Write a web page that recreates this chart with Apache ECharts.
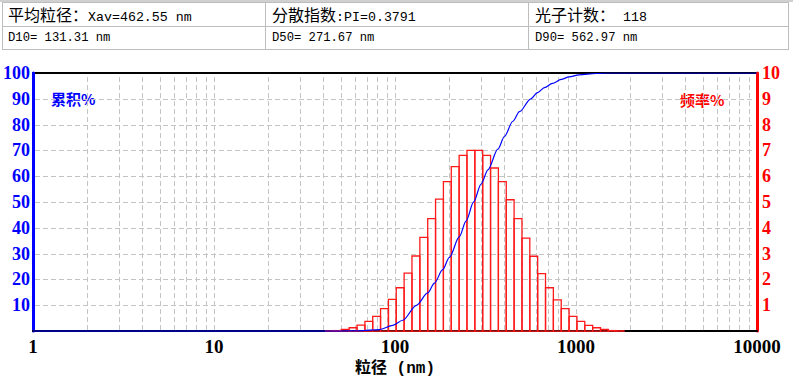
<!DOCTYPE html>
<html>
<head>
<meta charset="utf-8">
<script src="https://cdn.jsdelivr.net/npm/echarts@6/dist/echarts.min.js"></script>
<style>
  html, body { margin: 0; padding: 0; background: #fff; }
  #wrap { position: relative; width: 793px; height: 382px; overflow: hidden; }
  #chart { position: absolute; left: 0; top: 0; width: 793px; height: 382px; }
  #hdr { position: absolute; left: 2px; top: 2px; width: 787px; height: 48px; border: 1px solid #bdbdbd; box-sizing: border-box; }
  #topband { position: absolute; left: 0; top: 0; width: 793px; height: 2px; background: #d0d0d0; }
  .cell { position: absolute; box-sizing: border-box; white-space: pre; color: #000; }
  .c { font-family: "Noto Sans CJK SC", sans-serif; font-size: 16px; }
  .m1 { font-family: "Liberation Mono", "DejaVu Sans Mono", monospace; font-size: 13.3px; }
  .m2 { font-family: "Liberation Mono", "DejaVu Sans Mono", monospace; font-size: 12.2px; }
  .vl { position: absolute; top: 0; width: 1px; height: 46px; background: #bdbdbd; }
  .hl { position: absolute; left: 0; width: 785px; height: 1px; background: #bdbdbd; top: 23px; }
</style>
</head>
<body>
<div id="wrap">
  <div id="chart"></div>
  <div id="topband"></div>
  <div id="hdr">
    <div class="hl"></div>
    <div class="vl" style="left:262px"></div>
    <div class="vl" style="left:525px"></div>
    <div class="cell" style="left:5px;top:0px;line-height:22px;"><span class="c">平均粒径：</span><span class="m1">Xav=462.55 nm</span></div>
    <div class="cell" style="left:269px;top:0px;line-height:22px;"><span class="c">分散指数</span><span class="m1">:PI=0.3791</span></div>
    <div class="cell" style="left:532px;top:0px;line-height:22px;"><span class="c">光子计数：</span><span class="m1"> 118</span></div>
    <div class="cell m2" style="left:5px;top:24px;line-height:22px;">D10= 131.31 nm</div>
    <div class="cell m2" style="left:269px;top:24px;line-height:22px;">D50= 271.67 nm</div>
    <div class="cell m2" style="left:532px;top:24px;line-height:22px;">D90= 562.97 nm</div>
  </div>
</div>
<script>
// Histogram bin edges (nm), equal width on a log scale
const binEdges = [41.4, 45.7, 50.5, 55.8, 61.7, 68.2, 75.3, 83.2, 92.0, 101.6, 112.3, 124.1, 137.2,
  151.6, 167.5, 185.1, 204.6, 226.1, 249.8, 276.1, 305.1, 337.2, 372.6, 411.8, 455.0, 502.9,
  555.7, 614.1, 678.6, 749.9, 828.7, 915.8, 1012, 1118, 1236, 1366, 1509, 1668, 1843];
// Frequency % per bin
const freqValues = [0.01, 0.02, 0.07, 0.13, 0.23, 0.38, 0.57, 0.87, 1.23, 1.68, 2.25, 2.91, 3.63,
  4.36, 5.11, 5.79, 6.37, 6.81, 7.00, 7.00, 6.81, 6.32, 5.79, 5.09, 4.36, 3.60, 2.90, 2.23,
  1.68, 1.21, 0.87, 0.57, 0.38, 0.22, 0.13, 0.07, 0.02, 0.01];
// Cumulative curve (diameter nm, cumulative %)
const cumDiam = [1, 40, 50, 63.7, 82.1, 97.2, 110.4, 131.31, 151.7, 165.1, 183.4, 199.7, 226.8,
  246.9, 271.67, 299.3, 326.0, 370.1, 402.9, 447.7, 487.2, 562.97, 612.7, 669.5, 741.3, 828.0,
  916.2, 1040, 1286, 1522, 10000];
const cumValues = [0, 0, 0.02, 0.1, 0.6, 2.2, 4.2, 10, 14.8, 18.6, 23.8, 28.6, 36.6,
  42.6, 50, 57.0, 62.5, 70.5, 75.5, 81.3, 85.0, 90, 92.4, 94.3, 96.0, 97.5,
  98.5, 99.3, 99.8, 100, 100];
// Axis ticks and grid positions
const xTicks = [1, 10, 100, 1000, 10000];
const xGridValues = [2,3,4,5,6,7,8,9,10,20,30,40,50,60,70,80,90,100,200,300,400,500,600,700,800,900,1000,
  2000,3000,4000,5000,6000,7000,8000,9000];
const yGridValues = [10, 20, 30, 40, 50, 60, 70, 80, 90];

const chart = echarts.init(document.getElementById('chart'), null, { renderer: 'svg' });

const barData = freqValues.map((v, i) => [binEdges[i], binEdges[i + 1], v]);
const cumData = cumDiam.map((d, i) => [d, cumValues[i]]);

const serifBold = '"Liberation Serif", "Times New Roman", serif';
const gridGray = '#c4c4c4';

chart.setOption({
  animation: false,
  grid: { left: 33, right: 36, top: 73, bottom: 47, show: true, borderColor: '#000', borderWidth: 2, backgroundColor: 'transparent' },
  xAxis: {
    type: 'log', logBase: 10, min: 1, max: 10000,
    axisLine: { show: true, lineStyle: { color: '#000', width: 2 } },
    axisTick: { show: false },
    splitLine: { show: false },
    minorTick: { show: false },
    minorSplitLine: { show: false },
    axisLabel: { color: '#000', fontFamily: serifBold, fontWeight: 'bold', fontSize: 19, margin: 6,
      formatter: v => (xTicks.indexOf(Math.round(v)) >= 0 ? String(Math.round(v)) : '') },
    name: '粒径 (nm)', nameLocation: 'middle', nameGap: 24,
    nameTextStyle: { color: '#000', fontWeight: 'bold', fontSize: 16, fontFamily: '"Liberation Mono", "Noto Sans CJK SC", monospace' }
  },
  yAxis: [
    {
      type: 'value', min: 0, max: 100, interval: 10, position: 'left',
      axisLine: { show: true, lineStyle: { color: '#0000ff', width: 3 } },
      axisTick: { show: false },
      splitLine: { show: false },
      axisLabel: { color: '#0000ff', fontFamily: serifBold, fontWeight: 'bold', fontSize: 18, margin: 3, showMinLabel: false }
    },
    {
      type: 'value', min: 0, max: 10, interval: 1, position: 'right',
      axisLine: { show: true, lineStyle: { color: '#ff0000', width: 3 } },
      axisTick: { show: false },
      splitLine: { show: false },
      axisLabel: { color: '#ff0000', fontFamily: serifBold, fontWeight: 'bold', fontSize: 18, margin: 5, showMinLabel: false }
    }
  ],
  graphic: [
    { type: 'text', left: 51, top: 91, style: { text: '累积%', fill: '#0000ff', font: 'bold 15px "Noto Sans CJK SC", sans-serif' } },
    { type: 'text', left: 680, top: 92, style: { text: '频率%', fill: '#ff0000', font: 'bold 15px "Noto Sans CJK SC", sans-serif' } }
  ],
  series: [
    {
      // vertical log grid lines
      type: 'custom', yAxisIndex: 0, z: 1, silent: true,
      data: xGridValues.map(v => [v]),
      renderItem: (params, api) => {
        const a = api.coord([api.value(0), 0]);
        const b = api.coord([api.value(0), 100]);
        const x = Math.round(a[0]) + 0.5;
        return {
          type: 'line',
          shape: { x1: x, y1: a[1] - 1, x2: x, y2: b[1] + 1 },
          style: { stroke: gridGray, lineWidth: 1, lineDash: [5, 3] }
        };
      }
    },
    {
      // horizontal grid lines
      type: 'custom', yAxisIndex: 0, z: 1, silent: true,
      data: yGridValues.map(v => [1, v]),
      renderItem: (params, api) => {
        const a = api.coord([1, api.value(1)]);
        const b = api.coord([10000, api.value(1)]);
        const y = Math.round(a[1]) + 0.5;
        return {
          type: 'line',
          shape: { x1: a[0] + 2, y1: y, x2: b[0] - 2, y2: y },
          style: { stroke: gridGray, lineWidth: 1, lineDash: [5, 3] }
        };
      }
    },
    {
      type: 'custom', yAxisIndex: 1, z: 2,
      data: barData,
      renderItem: (params, api) => {
        const p0 = api.coord([api.value(0), api.value(2)]);
        const p1 = api.coord([api.value(1), 0]);
        return {
          type: 'rect',
          shape: { x: p0[0], y: p0[1], width: p1[0] - p0[0], height: p1[1] - p0[1] },
          style: { fill: 'none', stroke: '#ff1a1a', lineWidth: 1.3 }
        };
      }
    },
    {
      type: 'line', yAxisIndex: 0, z: 3, data: cumData, smooth: 0.3, smoothMonotone: 'x', showSymbol: false,
      lineStyle: { color: '#0000ff', width: 1.2 }
    }
  ]
});
</script>
</body>
</html>
